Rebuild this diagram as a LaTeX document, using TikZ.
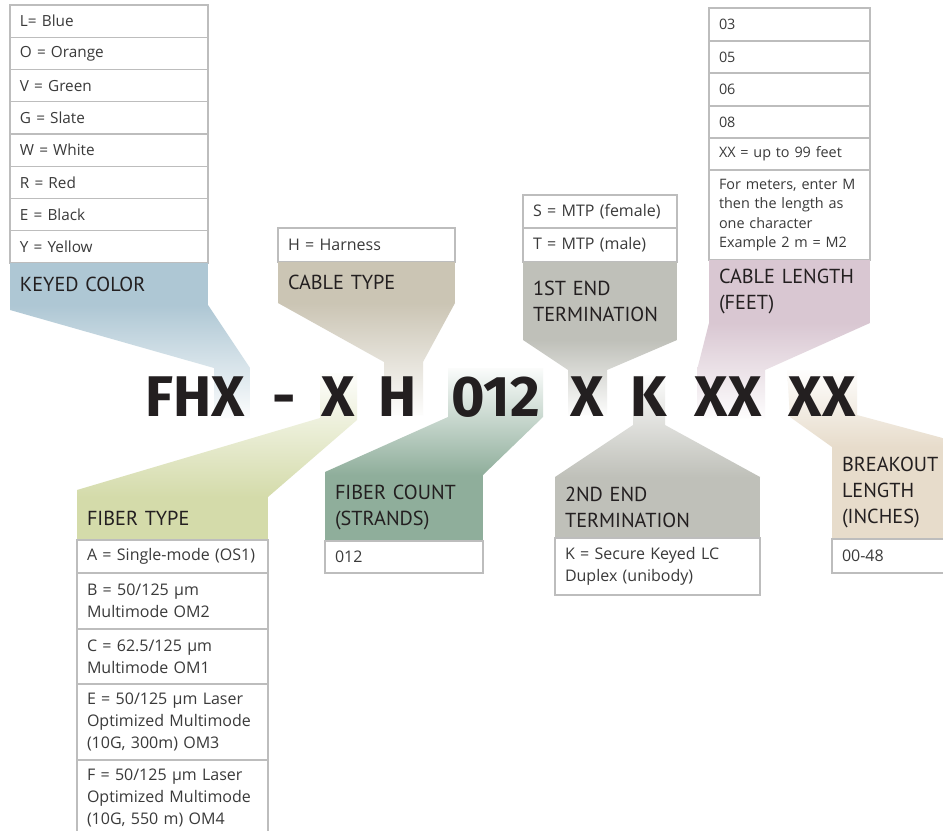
\documentclass[tikz,border=0pt]{standalone}
\usepackage{fontspec}
\setmainfont{Open Sans}
\newfontfamily\hdrfont{PT Sans}
\newfontfamily\codefont{Fira Sans}
\usetikzlibrary{positioning}

\definecolor{ink}{HTML}{231F20}
\definecolor{cellink}{HTML}{3A3A3A}
\definecolor{cellgray}{HTML}{BDBDBD}
\definecolor{kcol}{HTML}{AEC7D4}
\definecolor{ctcol}{HTML}{CBC5B4}
\definecolor{fecol}{HTML}{BFC0B9}
\definecolor{clcol}{HTML}{D9C7D2}
\definecolor{ftcol}{HTML}{D4DBAA}
\definecolor{fccol}{HTML}{8FAE9B}
\definecolor{secol}{HTML}{BFC0B9}
\definecolor{bocol}{HTML}{E7DCCB}

\newcommand\cellfont{\fontsize{12}{16.3}\selectfont}
\newcommand\keyfont{\fontsize{11.5}{15}\selectfont}
\newcommand\lenfont{\fontsize{10.8}{14.6}\selectfont}

\tikzset{
  cell/.style 2 args={draw=cellgray, line width=0.8pt, fill=white, anchor=north west,
    inner xsep=7.5pt, inner ysep=0pt, outer sep=0pt, align=left, text=cellink,
    font=\cellfont, text width=#1, minimum height=#2},
  hdr/.style n args={3}{fill=#1, anchor=north west, inner xsep=7.5pt, inner ysep=0pt,
    outer sep=0pt, align=left, text=ink, font=\hdrfont\fontsize{15.2}{19.5}\selectfont,
    text width=#2, minimum height=#3},
  code/.style={anchor=base, inner sep=0pt, text=ink,
    font=\codefont\bfseries\fontsize{43}{43}\selectfont},
}

\begin{document}
\begin{tikzpicture}[x=0.75pt, y=-0.75pt]
\path[use as bounding box, fill=white] (0,0) rectangle (943,831);

% funnels up to the code
\shade[top color=kcol, bottom color=kcol!4] (10,305) -- (208,305) -- (250,368) -- (250,418)
  -- (214,418) -- (214,368) -- (10,310) -- cycle;
\shade[top color=ctcol, bottom color=ctcol!4] (278,303) -- (455,303) -- (423,362) -- (423,415)
  -- (384,415) -- (384,362) -- cycle;
\shade[top color=fecol, bottom color=fecol!4] (523,340) -- (677,340) -- (607,370) -- (607,415)
  -- (568,415) -- (568,370) -- cycle;
\shade[top color=clcol, bottom color=clcol!4] (709,323) -- (870,323) -- (765,370) -- (765,418)
  -- (697,418) -- (697,370) -- cycle;

% funnels down from the code
\shade[top color=ftcol!4, bottom color=ftcol] (320,373) -- (357,373) -- (357,420) -- (268,497)
  -- (77,497) -- (77,490) -- (320,418) -- cycle;
\shade[top color=fccol!4, bottom color=fccol] (448,368) -- (543,368) -- (543,417) -- (483,475)
  -- (325,475) -- (325,472) -- (448,417) -- cycle;
\shade[top color=secol!4, bottom color=secol] (633,375) -- (665,375) -- (665,425) -- (760,477)
  -- (555,477) -- (633,425) -- cycle;
\shade[top color=bocol!4, bottom color=bocol] (787,370) -- (857,370) -- (857,415) -- (950,440)
  -- (950,447) -- (832,447) -- (790,417) -- cycle;

% keyed color
\foreach \t [count=\i] in {L= Blue, O = Orange, V = Green, G = Slate, W = White, R = Red, E = Black, Y = Yellow}
  \node[cell={133.5pt}{24.2pt}, font=\keyfont] (kc\i) at (10,{5+32.25*(\i-1)}) {\t};
\node[hdr={kcol}{133.5pt}{31.5pt}] (kcHead) at (10,263) {KEYED COLOR};

% cable type
\node[cell={117.75pt}{25.5pt}] (ct1) at (278,228) {H = Harness};
\node[hdr={ctcol}{117.75pt}{30.75pt}] (ctHead) at (278,262) {CABLE TYPE};

% 1st end
\node[cell={100.5pt}{24.75pt}] (fe1) at (523,195) {S = MTP (female)};
\node[cell={100.5pt}{25.5pt}, below=0pt of fe1] (fe2) {T = MTP (male)};
\node[hdr={fecol}{100.5pt}{58.5pt}] (feHead) at (523,262) {1ST END\\TERMINATION};

% cable length
\node[cell={105.75pt}{24.75pt}, font=\lenfont] (cl1) at (709,8) {03};
\node[cell={105.75pt}{24pt}, font=\lenfont, below=0pt of cl1] (cl2) {05};
\node[cell={105.75pt}{24.75pt}, font=\lenfont, below=0pt of cl2] (cl3) {06};
\node[cell={105.75pt}{24pt}, font=\lenfont, below=0pt of cl3] (cl4) {08};
\node[cell={105.75pt}{24pt}, font=\lenfont, below=0pt of cl4] (cl5) {XX = up to 99 feet};
\node[cell={105.75pt}{67.5pt}, font=\lenfont, below=0pt of cl5] (cl6)
  {For meters, enter M\\then the length as\\one character\\Example 2 m = M2};
\node[hdr={clcol}{105.75pt}{47.25pt}] (clHead) at (709,260) {CABLE LENGTH\\(FEET)};

% fiber type
\node[hdr={ftcol}{128.25pt}{32.25pt}] (ftHead) at (77,497) {FIBER TYPE};
\node[cell={128.25pt}{24.75pt}, below=0pt of ftHead] (ft1) {A = Single-mode (OS1)};
\node[cell={128.25pt}{42pt}, below=0pt of ft1] (ft2) {B = 50/125 µm\\Multimode OM2};
\node[cell={128.25pt}{41.25pt}, below=0pt of ft2] (ft3) {C = 62.5/125 µm\\Multimode OM1};
\node[cell={128.25pt}{57pt}, below=0pt of ft3] (ft4)
  {E = 50/125 µm Laser\\Optimized Multimode\\(10G, 300m) OM3};
\node[cell={128.25pt}{57pt}, below=0pt of ft4] (ft5)
  {F = 50/125 µm Laser\\Optimized Multimode\\(10G, 550 m) OM4};

% fiber count
\node[hdr={fccol}{103.5pt}{49.5pt}] (fcHead) at (325,475) {FIBER COUNT\\(STRANDS)};
\node[cell={103.5pt}{24pt}, below=0pt of fcHead] (fc1) {012};

% 2nd end
\node[hdr={secol}{138.75pt}{45.75pt}] (seHead) at (555,477) {2ND END\\TERMINATION};
\node[cell={138.75pt}{42.75pt}, below=0pt of seHead] (se1) {K = Secure Keyed LC\\Duplex (unibody)};

% breakout length
\node[hdr={bocol}{75pt}{69pt}] (boHead) at (832,447) {BREAKOUT\\LENGTH\\(INCHES)};
\node[cell={75pt}{25.5pt}, below=0pt of boHead] (bo1) {00-48};

% the part number
\node[code] (cFHX) at (195,416) {FHX};
\node[code] (cDash) at (284,416) {-};
\node[code] (cX1) at (338.5,416) {X};
\node[code] (cH) at (397.5,416) {H};
\node[code] (c012) at (495.5,416) {012};
\node[code] (cX2) at (587.5,416) {X};
\node[code] (cK) at (649,416) {K};
\node[code] (cXX1) at (728,416) {XX};
\node[code] (cXX2) at (822,416) {XX};
\end{tikzpicture}
\end{document}
